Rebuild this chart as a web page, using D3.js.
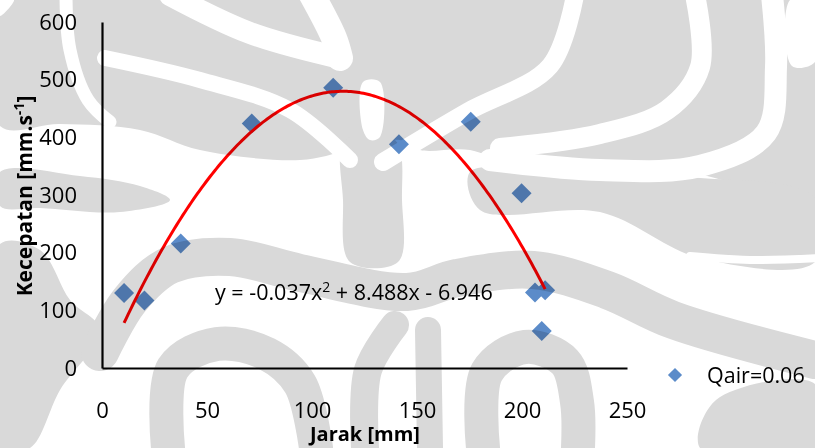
<!DOCTYPE html>
<html>
<head>
<meta charset="utf-8">
<script src="https://cdn.jsdelivr.net/npm/d3@7"></script>
<style>
  html, body { margin: 0; padding: 0; background: #ffffff; }
  svg { display: block; }
  .tick text { font-family: "Open Sans", sans-serif; font-size: 22px; fill: #000; }
</style>
</head>
<body>
<script>
// Measured distance along the channel (mm) and flow velocity (mm/s)
const jarak     = [10.5, 20.2, 37.5, 71.3, 110.1, 141.4, 175.6, 199.8, 206.2, 211.0, 209.4];
const kecepatan = [130, 117, 216, 424, 486, 388, 427, 303, 131, 135, 64];
const seriesName = "Qair=0.06";

// Quadratic trendline y = a x^2 + b x + c, over the measured x-range
const trendCoef = [-0.037, 8.488, -6.946];
const trendRange = [10.5, 211.0];

const xTicks = [0, 50, 100, 150, 200, 250];
const yTicks = [0, 100, 200, 300, 400, 500, 600];

const W = 815, H = 448;
const svg = d3.select("body").append("svg")
  .attr("width", W).attr("height", H);

const x = d3.scaleLinear().domain([0, 250]).range([102, 627]);
const y = d3.scaleLinear().domain([0, 600]).range([368, 22]);

const chart = svg.append("g");

// axes: plain lines, no tick marks
const xAxis = chart.append("g")
  .attr("transform", `translate(0,${y(0)})`)
  .call(d3.axisBottom(x).tickValues(xTicks).tickSize(0).tickPadding(34));
xAxis.select(".domain").attr("stroke", "#000").attr("stroke-width", 2.2);

const yAxis = chart.append("g")
  .attr("transform", `translate(${x(0)},0)`)
  .call(d3.axisLeft(y).tickValues(yTicks).tickSize(0).tickPadding(25));
yAxis.select(".domain").attr("stroke", "#000").attr("stroke-width", 2.2);

// axis titles
chart.append("text")
  .attr("x", 365).attr("y", 441)
  .attr("text-anchor", "middle")
  .style("font-family", "'Open Sans', sans-serif")
  .style("font-weight", "bold").style("font-size", "20px")
  .text("Jarak [mm]");

const yTitle = chart.append("text")
  .attr("transform", "translate(32,196) rotate(-90)")
  .attr("text-anchor", "middle")
  .style("font-family", "'Open Sans', sans-serif")
  .style("font-weight", "bold").style("font-size", "21px");
yTitle.append("tspan").text("Kecepatan [mm.s");
yTitle.append("tspan").attr("dy", -8).style("font-size", "14px").text("-1");
yTitle.append("tspan").attr("dy", 8).text("]");

// data markers (diamonds)
const diamond = d3.symbol().type(d3.symbolSquare).size(200);
const pts = jarak.map((v, i) => [v, kecepatan[i]]);
chart.append("g").selectAll("path")
  .data(pts)
  .join("path")
  .attr("d", diamond)
  .attr("transform", d => `translate(${x(d[0])},${y(d[1])}) rotate(45)`)
  .attr("fill", "#5b8bc9");

// trendline from the fitted polynomial
const poly = v => trendCoef[0] * v * v + trendCoef[1] * v + trendCoef[2];
const trendPts = d3.range(trendRange[0], trendRange[1] + 0.001, 1).map(v => [v, poly(v)]);
trendPts.push([trendRange[1], poly(trendRange[1])]);
chart.append("path")
  .datum(trendPts)
  .attr("fill", "none")
  .attr("stroke", "#ff0000")
  .attr("stroke-width", 3)
  .attr("d", d3.line().x(d => x(d[0])).y(d => y(d[1])));

// equation label
const eq = chart.append("text")
  .attr("x", 215).attr("y", 300)
  .style("font-family", "'Open Sans', sans-serif").style("font-size", "21.5px");
eq.append("tspan").text("y = -0.037x");
eq.append("tspan").attr("dy", -8).style("font-size", "14px").text("2");
eq.append("tspan").attr("dy", 8).text(" + 8.488x - 6.946");

// legend
const leg = chart.append("g").attr("transform", "translate(675,375)");
leg.append("path")
  .attr("d", d3.symbol().type(d3.symbolSquare).size(100))
  .attr("transform", "rotate(45)")
  .attr("fill", "#5b8bc9");
leg.append("text")
  .attr("x", 32).attr("y", 8)
  .style("font-family", "'Open Sans', sans-serif").style("font-size", "21.5px")
  .text(seriesName);

// background watermark, multiplied over the chart
const wm = svg.append("g").style("mix-blend-mode", "multiply");
const grey = "#d9d9d9";
const closed = d3.line().curve(d3.curveCatmullRomClosed.alpha(0.5));
const open = d3.line().curve(d3.curveCatmullRom.alpha(0.5));

// grey masses
const blobs = [
  // upper band across the top
  [[0,0],[815,0],[815,200],[700,175],[600,176],[520,168],[470,150],[420,150],[400,140],[350,150],[300,160],[200,150],[140,130],[60,124],[0,126]],
  // left piece under the white band
  [[0,172],[80,176],[140,186],[170,200],[120,212],[40,208],[0,206]],
  // central stem
  [[345,140],[395,140],[402,200],[398,262],[350,262],[343,200]],
  // right middle
  [[470,172],[600,178],[700,178],[815,198],[815,262],[700,258],[600,212],[480,210]],
  // bottom right corner
  [[700,448],[716,400],[815,384],[815,448]],
  // lower left
  [[0,244],[40,250],[70,300],[100,330],[60,390],[30,448],[0,448]]
];
wm.selectAll("path.blob").data(blobs).join("path")
  .attr("class", "blob")
  .attr("d", closed)
  .attr("fill", grey);

// grey curved bands
const bands = [
  {p: [[100,352],[130,300],[170,265],[230,257],[300,273],[407,292],[457,278],[533,270],[607,290],[673,320],[815,360]], w: 38},
  {p: [[168,448],[173,368],[217,344],[267,354],[300,384],[316,448]], w: 34},
  {p: [[483,448],[487,372],[525,347],[565,362],[577,402],[578,448]], w: 34},
  {p: [[365,448],[368,370],[395,325]], w: 28},
  {p: [[430,448],[428,330]], w: 26}
];
wm.selectAll("path.band").data(bands).join("path")
  .attr("class", "band")
  .attr("d", d => open(d.p))
  .attr("fill", "none")
  .attr("stroke", grey)
  .attr("stroke-width", d => d.w)
  .attr("stroke-linecap", "round");

// white stripes cutting through the grey
const cuts = [
  {p: [[66,-5],[70,50],[88,100],[110,122]], w: 13},
  {p: [[170,-5],[250,33],[340,58]], w: 22},
  {p: [[312,-5],[334,38],[340,58]], w: 26},
  {p: [[105,58],[200,80],[290,110],[350,160]], w: 16},
  {p: [[383,162],[467,112],[550,66],[575,-5]], w: 18},
  {p: [[695,-5],[700,67],[667,110],[600,134],[500,148]], w: 20},
  {p: [[772,-5],[776,67],[766,133],[700,166],[600,170],[490,160]], w: 22},
  {p: [[690,256],[750,260],[820,258]], w: 8}
];
wm.selectAll("path.cut").data(cuts).join("path")
  .attr("class", "cut")
  .attr("d", d => open(d.p))
  .attr("fill", "none")
  .attr("stroke", "#ffffff")
  .attr("stroke-width", d => d.w)
  .attr("stroke-linecap", "round");

// white pockets
const pockets = [
  [[0,0],[14,0],[0,16]],
  [[363,82],[380,82],[380,137],[370,140],[363,130]],
  [[790,0],[815,0],[815,62],[792,66]]
];
wm.selectAll("path.pocket").data(pockets).join("path")
  .attr("class", "pocket")
  .attr("d", closed)
  .attr("fill", "#ffffff");
</script>
</body>
</html>
